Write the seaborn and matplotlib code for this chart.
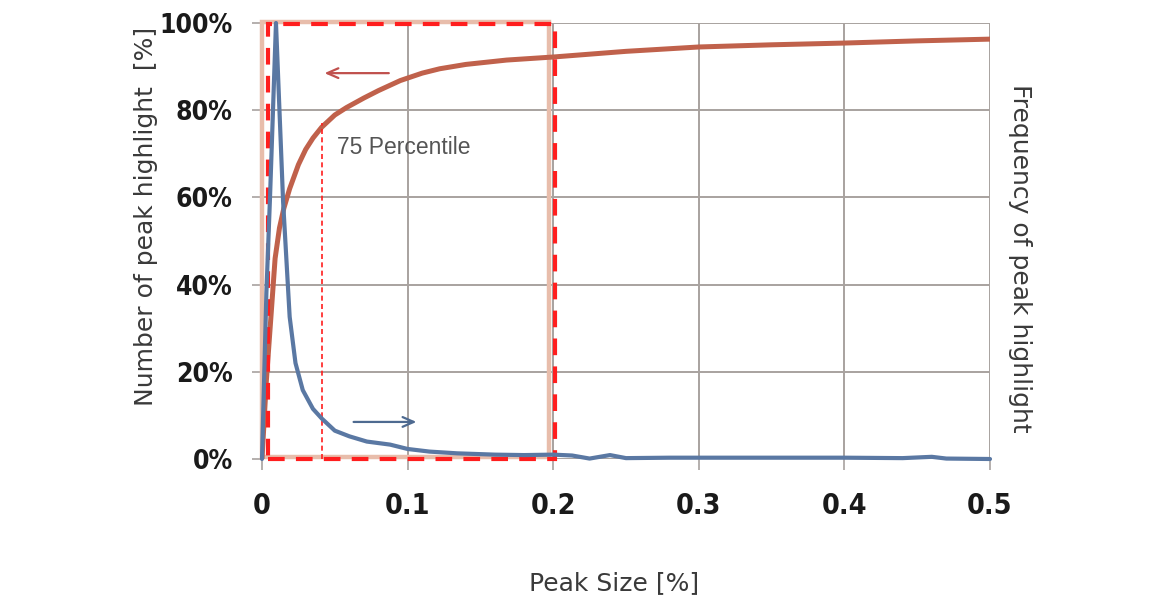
import matplotlib
matplotlib.use('Agg')
import matplotlib.pyplot as plt
import seaborn as sns
from matplotlib.patches import Rectangle

# Data
peak_size_cum = [0, 0.003, 0.006, 0.009, 0.012, 0.015, 0.019, 0.025, 0.03, 0.035, 0.041,
                 0.05, 0.058, 0.07, 0.08, 0.095, 0.11, 0.122, 0.14, 0.168, 0.2, 0.25,
                 0.3, 0.35, 0.4, 0.45, 0.5]
number_pct = [0, 18, 32, 46, 53, 57.5, 62, 67.5, 71, 73.6, 76.1,
              78.9, 80.6, 82.8, 84.5, 86.8, 88.5, 89.5, 90.5, 91.5, 92.2, 93.5,
              94.5, 95, 95.4, 95.9, 96.3]

peak_size_freq = [0, 0.003, 0.0055, 0.0096, 0.0145, 0.019, 0.023, 0.028, 0.035, 0.041,
                  0.05, 0.06, 0.072, 0.088, 0.1, 0.115, 0.134, 0.16, 0.18, 0.2, 0.213,
                  0.225, 0.239, 0.25, 0.28, 0.32, 0.36, 0.4, 0.44, 0.46, 0.47, 0.5]
frequency = [0, 38, 60, 100, 59, 32.6, 22, 15.8, 11.5, 9.3,
             6.5, 5.2, 4.0, 3.3, 2.3, 1.7, 1.3, 1.0, 0.9, 1.0, 0.8,
             0.1, 0.9, 0.2, 0.3, 0.3, 0.3, 0.3, 0.2, 0.5, 0.1, 0.0]

x_ticks = [0, 0.1, 0.2, 0.3, 0.4, 0.5]
x_labels = ['0', '0.1', '0.2', '0.3', '0.4', '0.5']
y_ticks = [0, 20, 40, 60, 80, 100]
y_labels = ['0%', '20%', '40%', '60%', '80%', '100%']

p75_x = 0.041
p75_y = 77
box_lo, box_hi = 0.004, 0.201

orange = '#C0614B'
blue = '#5A78A3'
salmon = '#E8BDAB'
red = '#FF1E1E'
grid = '#A8A29F'

sns.set_style('white')
tick_font = ['DejaVu Sans']

fig = plt.figure(figsize=(11.64, 6.04), dpi=100)
ax = fig.add_axes([262/1164, 1 - 459/604, 728/1164, 436/604])

ax.set_xlim(0, 0.5)
ax.set_ylim(0, 100)
ax.set_xticks(x_ticks)
ax.set_yticks(y_ticks)
ax.set_xticklabels(x_labels, fontfamily=tick_font, fontweight='bold', fontstretch='condensed',
                   fontsize=20.5, color='#1a1a1a')
ax.set_yticklabels(y_labels, fontfamily=tick_font, fontweight='bold', fontstretch='condensed',
                   fontsize=19, color='#1a1a1a')
ax.tick_params(axis='x', length=8, width=1.2, color=grid, pad=16, bottom=True)
ax.tick_params(axis='y', length=7, width=1.2, color=grid, pad=14, left=True)
ax.grid(True, color=grid, linewidth=1.4)
for s in ax.spines.values():
    s.set_visible(False)
ax.set_axisbelow(True)

# highlighted region
ax.add_patch(Rectangle((0, 0.5), 0.197, 99.8, fill=False, edgecolor=salmon, linewidth=3.2,
                       clip_on=False, zorder=2))
ax.add_patch(Rectangle((box_lo, 0), box_hi - box_lo, 99.8, fill=False, edgecolor=red,
                       linewidth=3, linestyle=(0, (4, 2.7)), clip_on=False, zorder=5))
ax.plot([p75_x, p75_x], [0, p75_y], color=red, linewidth=1.2, linestyle=(0, (3, 2)), zorder=4)

sns.lineplot(x=peak_size_cum, y=number_pct, ax=ax, color=orange, linewidth=3.6, zorder=3)

ax2 = ax.twinx()
ax2.set_ylim(0, 100)
ax2.set_yticks([])
for s in ax2.spines.values():
    s.set_visible(False)
sns.lineplot(x=peak_size_freq, y=frequency, ax=ax2, color=blue, linewidth=3.0, clip_on=False)
ax2.set_ylabel('')

ax.text(0.0515, 71.5, '75 Percentile', fontfamily=['Liberation Sans', 'DejaVu Sans'],
        fontsize=16.5, color='#555555', va='center', ha='left')

ax.annotate('', xy=(0.041, 88.5), xytext=(0.089, 88.5),
            arrowprops=dict(arrowstyle='->,head_length=0.8,head_width=0.35', color='#C0504D', lw=1.6))
ax2.annotate('', xy=(0.108, 8.5), xytext=(0.061, 8.5),
             arrowprops=dict(arrowstyle='->,head_length=0.8,head_width=0.35', color='#4E6A90', lw=1.6))

ax.text(-0.16, 0.557, 'Number of peak highlight  [%]', transform=ax.transAxes, rotation=90,
        ha='center', va='center', fontsize=18, color='#3a3a3a')
ax.text(0.4835, -0.284, 'Peak Size [%]', transform=ax.transAxes,
        ha='center', va='center', fontsize=18, color='#3a3a3a')
ax.text(1.041, 0.461, 'Frequency of peak highlight', transform=ax.transAxes, rotation=-90,
        ha='center', va='center', fontsize=18, color='#3a3a3a')

fig.savefig('out.png', dpi=100)
